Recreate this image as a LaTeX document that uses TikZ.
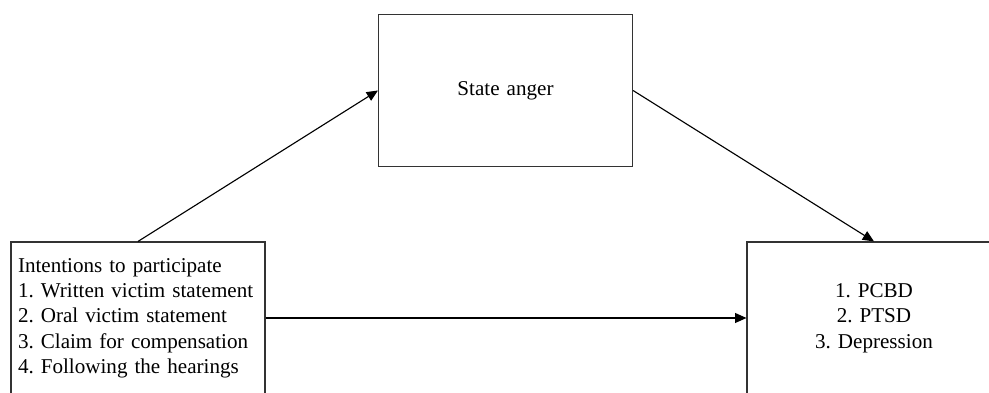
\documentclass[tikz,border=0pt]{standalone}
\usepackage{fontspec}
\setmainfont{Liberation Serif}
\usetikzlibrary{arrows.meta, positioning}
\frenchspacing

\begin{document}
\begin{tikzpicture}[
    box/.style={rectangle, draw=black!80, line width=0.8pt, text width=6cm, inner sep=0.175cm, minimum height=3.8cm, font=\fontsize{15}{18}\selectfont},
    arrow/.style={-{Triangle[length=8pt, width=7pt]}, line width=0.8pt}
]
% Visible part of the figure (boxes run off the bottom and right edge)
\clip (0,0) rectangle (24.725,9.825);

% Mediator (centered at top)
\node[box, align=center] (anger) at (12.6375,7.5625) {State anger};

% Predictor on the left, outcomes on the right
\node[box, align=left] (intent) at (3.45,1.875) {Intentions to participate\\1. Written victim statement\\2. Oral victim statement\\3. Claim for compensation\\4. Following the hearings};
\node[box, align=center] (outcome) at (21.85,1.875) {1. PCBD\\2. PTSD\\3. Depression};

% Arrows
\draw[arrow] (intent.north) -- (anger.west);
\draw[arrow] (anger.east) -- (outcome.north);
\draw[arrow] (intent.east) -- (outcome.west);
\end{tikzpicture}
\end{document}
